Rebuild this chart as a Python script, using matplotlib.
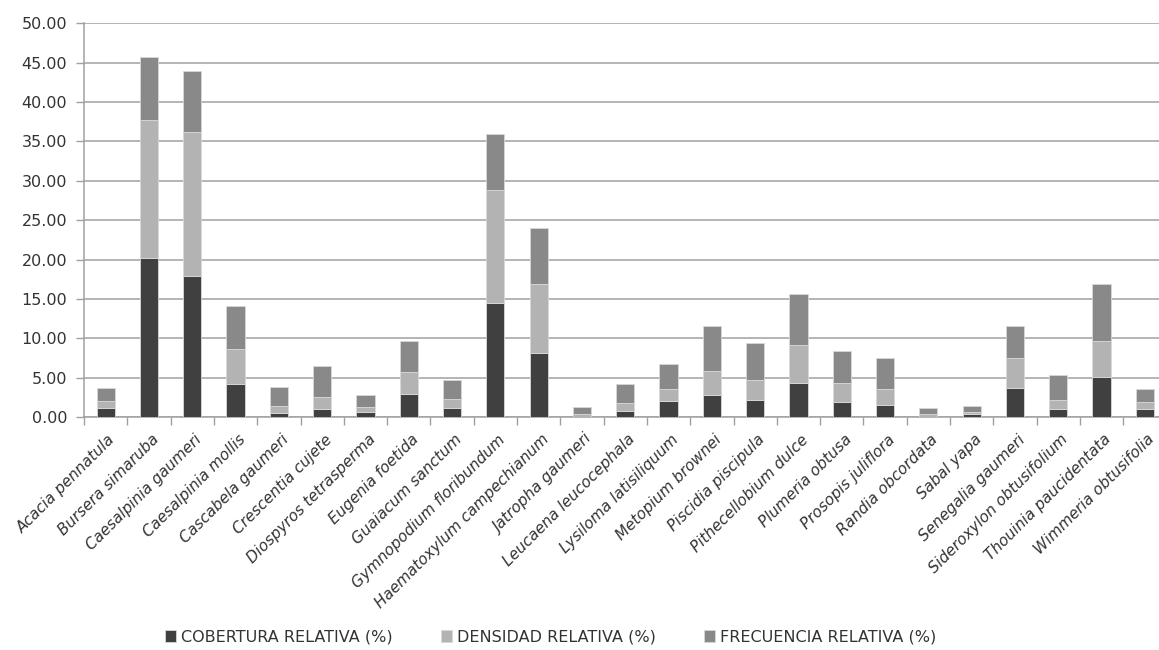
#!/usr/bin/env python3

import numpy as np
import matplotlib.pyplot as plt

plt.rcParams['font.family'] = ['DejaVu Sans']

# Species and relative values (%)
species = [
    "Acacia pennatula", "Bursera simaruba", "Caesalpinia gaumeri", "Caesalpinia mollis",
    "Cascabela gaumeri", "Crescentia cujete", "Diospyros tetrasperma", "Eugenia foetida",
    "Guaiacum sanctum", "Gymnopodium floribundum", "Haematoxylum campechianum",
    "Jatropha gaumeri", "Leucaena leucocephala", "Lysiloma latisiliquum", "Metopium brownei",
    "Piscidia piscipula", "Pithecellobium dulce", "Plumeria obtusa", "Prosopis juliflora",
    "Randia obcordata", "Sabal yapa", "Senegalia gaumeri", "Sideroxylon obtusifolium",
    "Thouinia paucidentata", "Wimmeria obtusifolia",
]
cobertura = [1.18, 20.25, 17.96, 4.19, 0.55, 0.97, 0.68, 2.96, 1.14, 14.45, 8.18,
             0.05, 0.80, 1.99, 2.80, 2.20, 4.32, 1.87, 1.56, 0.05, 0.34, 3.73, 0.97,
             5.04, 0.97]
densidad = [0.85, 17.50, 18.23, 4.45, 0.85, 1.53, 0.63, 2.76, 1.19, 14.37, 8.69,
            0.29, 0.94, 1.57, 3.05, 2.46, 4.87, 2.45, 2.00, 0.29, 0.30, 3.81, 1.23,
            4.66, 0.90]
frecuencia = [1.70, 7.92, 7.79, 5.51, 2.45, 3.98, 1.49, 3.98, 2.33, 7.19, 7.20,
              0.93, 2.41, 3.22, 5.68, 4.70, 6.45, 4.03, 3.98, 0.76, 0.76, 3.99, 3.18,
              7.17, 1.69]
series_names = ["COBERTURA RELATIVA (%)", "DENSIDAD RELATIVA (%)", "FRECUENCIA RELATIVA (%)"]
colors = ["#404040", "#b3b3b3", "#898989"]

fig = plt.figure(figsize=(11.59, 6.5), dpi=100)
ax = fig.add_axes([0.0725, 0.3585, 0.934, 0.6055])

x = np.arange(len(species))
bottom = np.zeros(len(species))
for vals, name, c in zip([cobertura, densidad, frecuencia], series_names, colors):
    ax.bar(x, vals, 0.42, bottom=bottom, color=c, label=name,
           edgecolor="#d8d8d8", linewidth=0.6, zorder=3)
    bottom += np.array(vals)

grid_c = "#a0a0a0"
text_c = "#333333"
ax.set_ylim(0, 50)
ax.set_yticks(np.arange(0, 50.01, 5))
ax.set_yticklabels([f"{v:.2f}" for v in np.arange(0, 50.01, 5)], fontsize=11.5, color=text_c)
ax.yaxis.grid(True, color=grid_c, linewidth=1.1, zorder=0)
ax.set_xlim(-0.5, len(species) - 0.5)

# category boundary ticks
ax.set_xticks(np.arange(-0.5, len(species), 1.0))
ax.set_xticklabels([])
ax.tick_params(axis="x", direction="out", length=6, color=grid_c, width=1)
ax.tick_params(axis="y", direction="out", length=6, color=grid_c, width=1, pad=6)
for i, name in enumerate(species):
    ax.text(i + 0.05, -1.9, name, rotation=45, rotation_mode="anchor",
            ha="right", va="top", fontsize=11, style="italic", color=text_c)

for s in ["top", "right"]:
    ax.spines[s].set_visible(False)
for s in ["left", "bottom"]:
    ax.spines[s].set_color(grid_c)
    ax.spines[s].set_linewidth(1.1)

fig.legend(loc="center", bbox_to_anchor=(0.475, 0.02), ncol=3, frameon=False,
           fontsize=11.5, handlelength=0.7, handleheight=0.7, handletextpad=0.3,
           columnspacing=3.0, labelcolor=text_c)

fig.savefig("out.png", dpi=100)
